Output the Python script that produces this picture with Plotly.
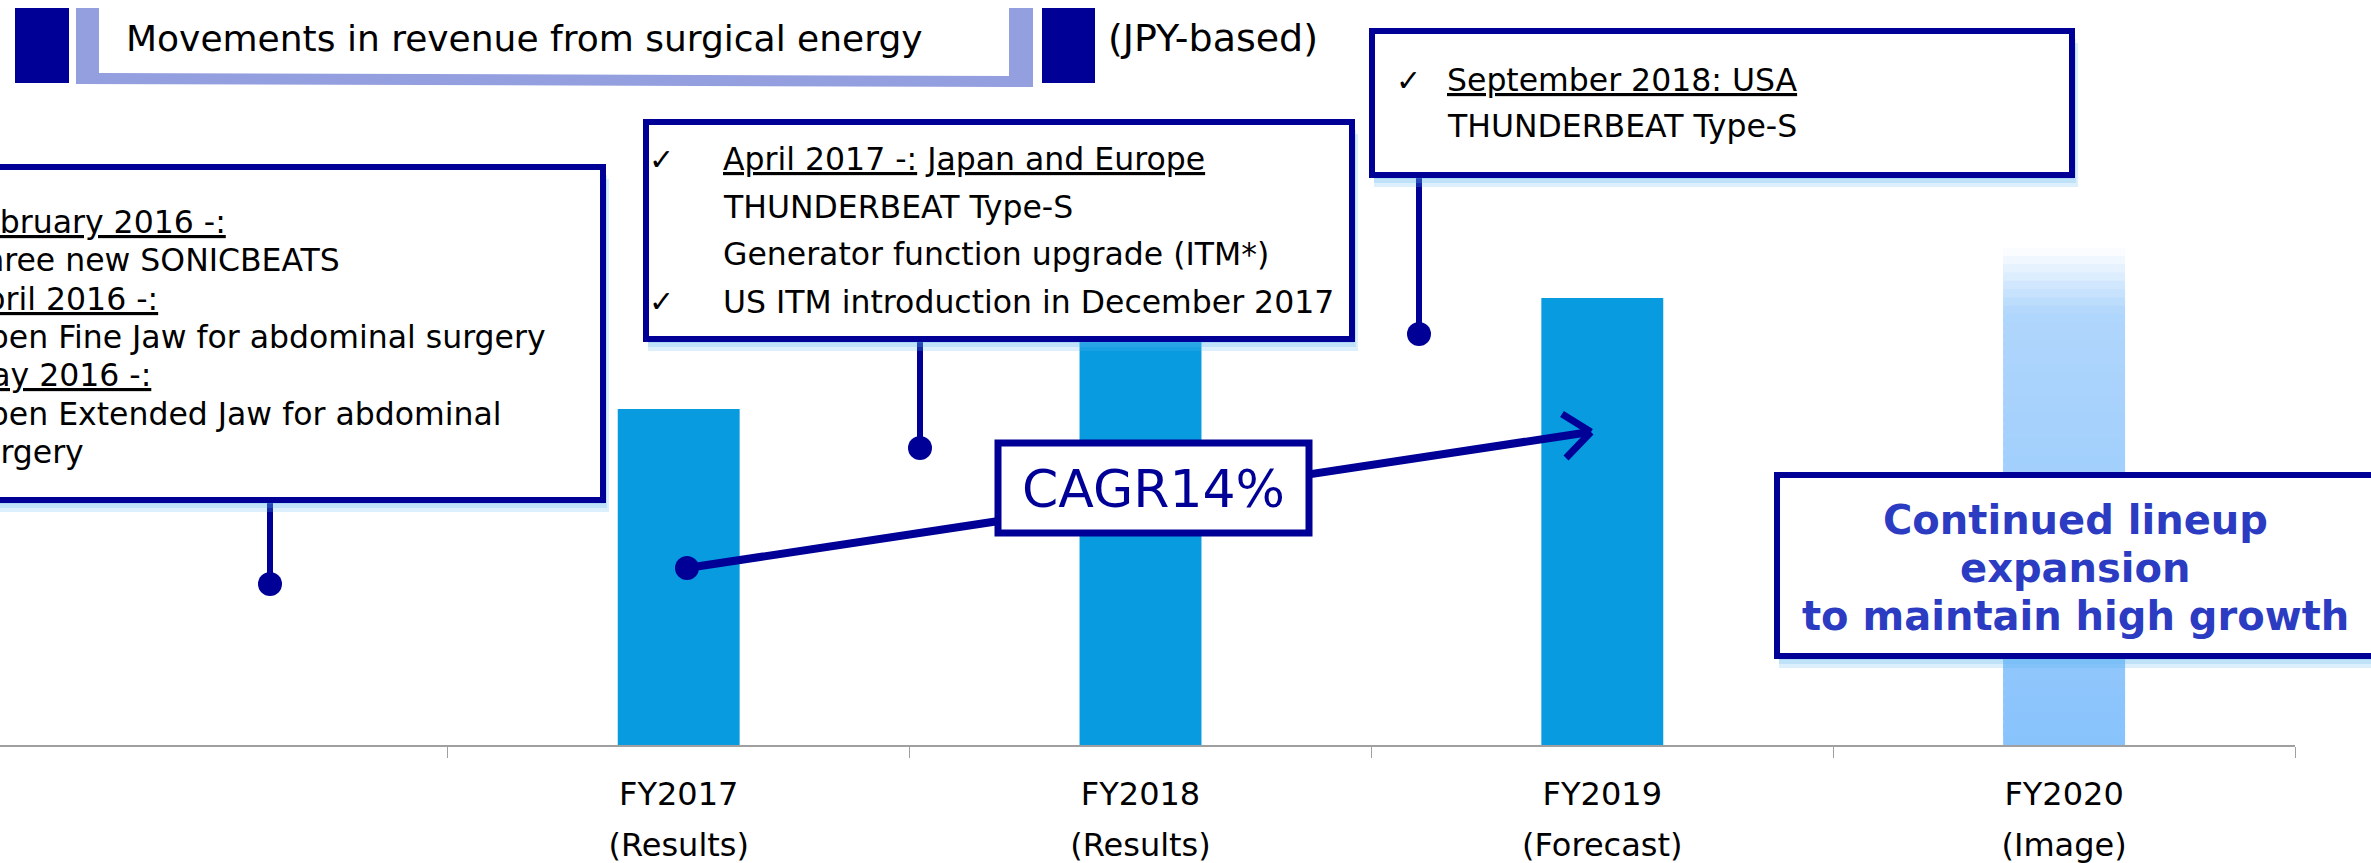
import plotly.graph_objects as go

# ---------------- data ----------------
fiscal_years = ["FY2016", "FY2017", "FY2018", "FY2019", "FY2020"]
year_labels = ["", "FY2017", "FY2018", "FY2019", "FY2020"]
year_notes = ["", "(Results)", "(Results)", "(Forecast)", "(Image)"]
# relative revenue index (FY2017 = 100)
revenue_actual = [None, 100, 121, 133, None]
revenue_image = [None, None, None, None, 148]

title_text = "Movements in revenue from surgical energy"
title_note = "(JPY-based)"
cagr_text = "CAGR14%"
box_a_lines = ["<u>February 2016 -:</u>", "Three new SONICBEATS", "<u>April 2016 -:</u>",
               "Open Fine Jaw for abdominal surgery", "<u>May 2016 -:</u>",
               "Open Extended Jaw for abdominal", "surgery"]
box_b_lines = ["<u>April 2017 -:</u> <u>Japan and Europe</u>", "THUNDERBEAT Type-S",
               "Generator function upgrade (ITM*)", "US ITM introduction in December 2017"]
box_b_checks = [True, False, False, True]
box_c_lines = ["<u>September 2018: USA</u>", "THUNDERBEAT Type-S"]
box_c_checks = [True, False]
box_d_lines = ["Continued lineup", "expansion", "to maintain high growth"]

# ---------------- style ----------------
W, H = 2371, 863
NAVY = "#000096"
BAR = "#089BE0"
FONT = "DejaVu Sans"
BAR_W = 0.264


def px(x):
    return x / W


def py(y):
    return 1 - y / H


def hex2rgb(h):
    h = h.lstrip("#")
    return [int(h[i:i + 2], 16) for i in (0, 2, 4)]


def mix(c1, c2, t):
    a, b = hex2rgb(c1), hex2rgb(c2)
    return "rgb(%d,%d,%d)" % tuple(round(a[i] + (b[i] - a[i]) * t) for i in range(3))


fig = go.Figure()

fig.add_trace(go.Bar(x=fiscal_years, y=revenue_actual, marker=dict(color=BAR, line=dict(width=0)),
                     width=BAR_W, hoverinfo="skip", showlegend=False))

# FY2020 "image" bar drawn as a vertical gradient made of stacked slices
n_seg = 60
for xi, v in zip(fiscal_years, revenue_image):
    if v is None:
        continue
    step = v / n_seg
    bases, heights, colors = [], [], []
    for i in range(n_seg):
        b = i * step
        f = (i + 0.5) / n_seg
        if f < 0.87:
            c = mix("#88C3FC", "#B0D6FC", f / 0.87)
        else:
            c = mix("#B0D6FC", "#FFFFFF", (f - 0.87) / 0.13)
        bases.append(b)
        heights.append(min(step * 1.6, v - b))
        colors.append(c)
    fig.add_trace(go.Bar(x=[xi] * n_seg, y=heights, base=bases, width=BAR_W,
                         marker=dict(color=colors, line=dict(width=0)),
                         hoverinfo="skip", showlegend=False))

# invisible trace to carry the second row of category labels
fig.add_trace(go.Scatter(x=fiscal_years, y=[0] * len(fiscal_years), xaxis="x2", mode="markers",
                         marker=dict(opacity=0, size=1), hoverinfo="skip", showlegend=False))

shapes = []


def rect(x0, y0, x1, y1, line_w=0, line_c=NAVY, fill="white", layer="above"):
    shapes.append(dict(type="rect", xref="paper", yref="paper", x0=px(x0), x1=px(x1),
                       y0=py(y1), y1=py(y0), line=dict(width=line_w, color=line_c),
                       fillcolor=fill, layer=layer))


def seg(x0, y0, x1, y1, w, c=NAVY):
    shapes.append(dict(type="line", xref="paper", yref="paper", x0=px(x0), y0=py(y0),
                       x1=px(x1), y1=py(y1), line=dict(width=w, color=c)))


def dot(cx, cy, r, c=NAVY):
    shapes.append(dict(type="circle", xref="paper", yref="paper", x0=px(cx - r), x1=px(cx + r),
                       y0=py(cy + r), y1=py(cy - r), fillcolor=c, line=dict(width=0)))


def box(x0, y0, x1, y1, lw=6, shadow=True):
    if shadow:
        for k in (3, 2, 1):
            rect(x0 + 2, y0 + 4 * k, x1 + 2 * k, y1 + 4 * k, fill="rgba(90,180,240,0.22)")
    rect(x0, y0, x1, y1, line_w=lw)


# title block
rect(15, 8, 69, 83, fill=NAVY)
rect(1042, 8, 1095, 83, fill=NAVY)
shapes.append(dict(type="path", xref="paper", yref="paper",
                   path="M %f,%f L %f,%f L %f,%f L %f,%f L %f,%f L %f,%f L %f,%f L %f,%f Z" % (
                       px(76), py(8), px(99), py(8), px(99), py(73), px(1009), py(76),
                       px(1009), py(8), px(1033), py(8), px(1033), py(87), px(76), py(84)),
                   fillcolor="#939FDF", line=dict(width=0)))

# callout A (2016)
seg(270, 500, 270, 584, 6)
dot(270, 584, 12)
box(-20, 167, 603, 500)
# callout B (2017)
seg(920, 339, 920, 448, 6)
dot(920, 448, 12)
box(646, 122, 1352, 339)
# callout C (2018)
seg(1419, 175, 1419, 334, 6)
dot(1419, 334, 12)
box(1372, 31, 2072, 175)
# CAGR arrow
seg(687, 568, 1590, 432, 8)
seg(1591, 432, 1562, 414, 7)
seg(1591, 432, 1566, 458, 7)
dot(687, 568, 12)
box(998, 443, 1309, 533, lw=7, shadow=False)
# callout D
box(1777, 475, 2385, 656)

annotations = []


def text(x, y, s, size=31.5, color="black", xanchor="left", bold=False):
    annotations.append(dict(xref="paper", yref="paper", x=px(x), y=py(y), text=s,
                            showarrow=False, xanchor=xanchor, yanchor="middle",
                            font=dict(family=FONT, size=size, color=color,
                                      weight="bold" if bold else "normal")))


text(124, 38, title_text, size=36)
text(1106, 38, title_note, size=38)

for i, s in enumerate(box_a_lines):
    text(-38, 222 + i * 38.3, s)
for i, s in enumerate(box_b_lines):
    if box_b_checks[i]:
        text(661, 159 + i * 47.5, "✓", xanchor="center", size=30)
    text(721, 159 + i * 47.5, s)
for i, s in enumerate(box_c_lines):
    if box_c_checks[i]:
        text(1408, 80 + i * 46, "✓", xanchor="center", size=30)
    text(1445, 80 + i * 46, s)

text(1153, 489, cagr_text, size=52, color=NAVY, xanchor="center")
for i, s in enumerate(box_d_lines):
    text(2075, 520 + i * 48, s, size=40, color="#2B3BC2", xanchor="center", bold=True)

xr = [-0.4697, 4.5]
fig.update_layout(
    width=W, height=H, margin=dict(l=0, r=0, t=0, b=0),
    paper_bgcolor="white", plot_bgcolor="white",
    barmode="overlay", hovermode=False, showlegend=False,
    font=dict(family=FONT, color="black"),
    shapes=shapes, annotations=annotations,
    xaxis=dict(domain=[0, 2295 / W], range=xr, type="category",
               categoryorder="array", categoryarray=fiscal_years,
               tickmode="array", tickvals=fiscal_years, ticktext=year_labels,
               tickson="boundaries", ticks="outside", ticklen=11, tickwidth=1,
               tickcolor="#A0A0A0", showline=True, linecolor="#A0A0A0", linewidth=2,
               showgrid=False, zeroline=False, tickfont=dict(size=32, color="black"),
               ticklabelstandoff=20),
    xaxis2=dict(domain=[0, 2295 / W], range=xr, type="category", overlaying="x",
                anchor="y", side="bottom", categoryorder="array", categoryarray=fiscal_years,
                tickmode="array", tickvals=fiscal_years, ticktext=year_notes,
                ticks="", showline=False, showgrid=False, zeroline=False,
                tickfont=dict(size=32, color="black"), ticklabelstandoff=78),
    yaxis=dict(domain=[118 / H, 1], range=[0, 745 / 3.36], visible=False),
)

fig.write_html("out.html", config={"displayModeBar": False},
               post_script="document.body.style.margin='0px';")
